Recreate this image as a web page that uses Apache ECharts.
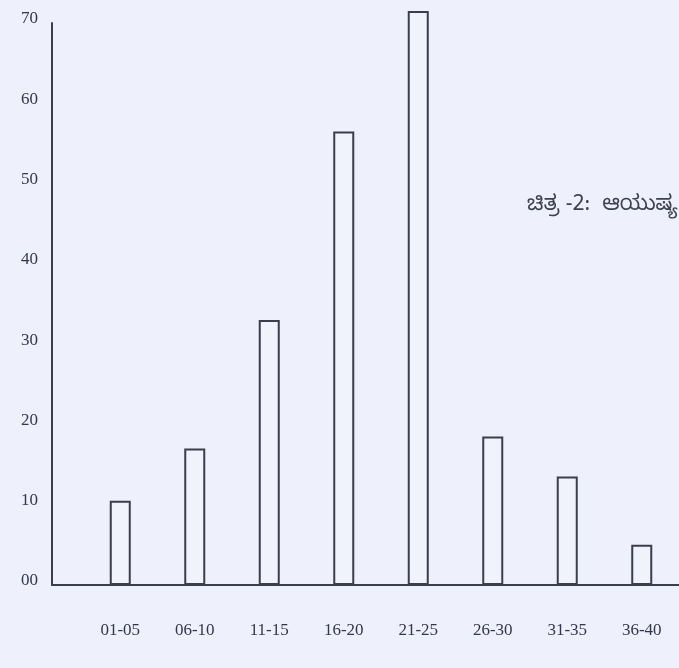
<!DOCTYPE html>
<html>
<head>
<meta charset="utf-8">
<script src="https://cdn.jsdelivr.net/npm/echarts@6/dist/echarts.min.js"></script>
<style>
html,body{margin:0;padding:0;background:#eef0fb;}
#chart{width:679px;height:668px;}
</style>
</head>
<body>
<div id="chart"></div>
<script>
// Data
const categories = ['01-05','06-10','11-15','16-20','21-25','26-30','31-35','36-40'];
const values = [10.5, 17, 33, 56.5, 71.5, 18.5, 13.5, 5];
const yTickLabels = ['00','10','20','30','40','50','60','70'];
const captionText = 'ಚಿತ್ರ -2:  ಆಯುಷ್ಯ';

const ink = '#3b3e4b';
const textInk = '#34374a';
const labelFont = "'Liberation Serif', 'DejaVu Serif', serif";

const chart = echarts.init(document.getElementById('chart'));
chart.setOption({
  backgroundColor: '#eef0fb',
  animation: false,
  title: {
    text: captionText,
    left: 522, top: 192,
    textStyle: { fontSize: 21, fontWeight: 'normal', color: '#3e4150',
      fontFamily: "'Noto Sans Kannada', 'Noto Sans', sans-serif" }
  },
  grid: [
    { left: 52, right: 0, top: 23, bottom: 83 },
    { left: 83, right: 0, top: 23, bottom: 83 }
  ],
  xAxis: [
    { gridIndex: 0, type: 'value', min: 0, max: 1,
      axisLine: { show: true, lineStyle: { color: ink, width: 2 } },
      axisTick: { show: false }, axisLabel: { show: false }, splitLine: { show: false } },
    { gridIndex: 1, type: 'category', data: categories,
      axisLine: { show: false }, axisTick: { show: false },
      axisLabel: { margin: 37, fontSize: 17, color: textInk, fontFamily: labelFont } }
  ],
  yAxis: [
    { gridIndex: 0, type: 'value', min: 0, max: 70, interval: 10,
      axisLine: { show: true, lineStyle: { color: ink, width: 2 } },
      axisTick: { show: false }, splitLine: { show: false },
      axisLabel: { margin: 14, fontSize: 17, color: textInk, fontFamily: labelFont,
        formatter: v => '{a|' + yTickLabels[Math.round(v / 10)] + '}',
        rich: { a: { fontSize: 17, color: textInk, fontFamily: labelFont, padding: [0, 0, 8, 0] } } } },
    { gridIndex: 1, type: 'value', min: 0, max: 70, interval: 10, show: false }
  ],
  series: [{
    type: 'bar', xAxisIndex: 1, yAxisIndex: 1,
    data: values, barWidth: 21, clip: false,
    itemStyle: { color: '#f1f3fc', borderColor: ink, borderWidth: 2 }
  }]
});
</script>
</body>
</html>
